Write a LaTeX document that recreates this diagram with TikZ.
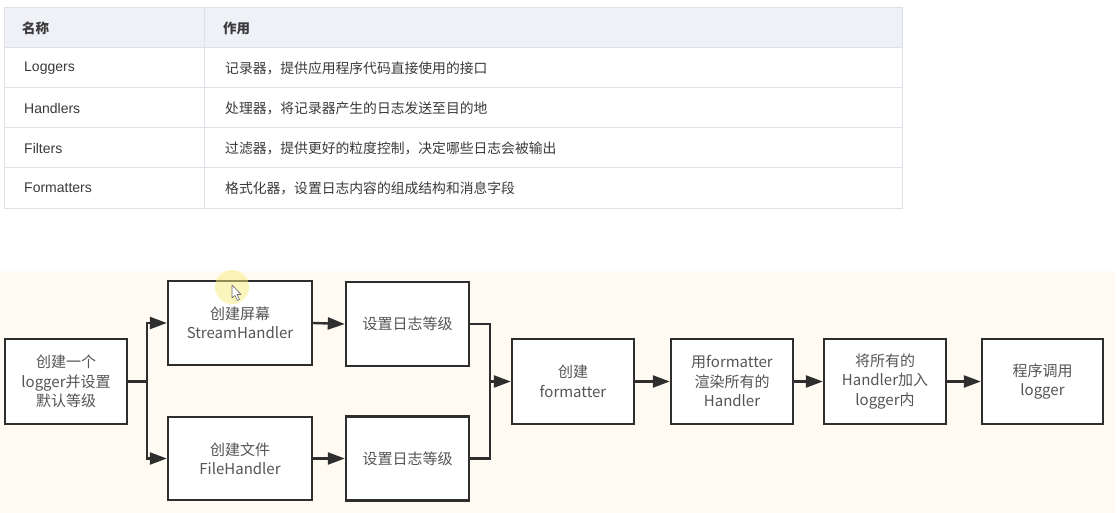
\documentclass[tikz,border=0pt]{standalone}
\usepackage{fontspec}
\setmainfont{Liberation Sans}
\newfontfamily\cjk{Noto Sans CJK SC}
\usetikzlibrary{arrows.meta}

\definecolor{tblline}{HTML}{DDE2EA}
\definecolor{tblhead}{HTML}{EFF1F6}
\definecolor{tbltext}{HTML}{3A3A3A}
\definecolor{canvas}{HTML}{FFFBF2}
\definecolor{ink}{HTML}{2E2E2E}
\definecolor{boxtext}{HTML}{555555}
\definecolor{glow}{HTML}{F6EC7A}

\tikzset{
  headtxt/.style={anchor=west, text=tbltext, font=\cjk\bfseries\fontsize{13.5}{15}\selectfont, inner sep=0pt},
  nametxt/.style={anchor=west, text=tbltext, font=\fontsize{14}{16}\selectfont, inner sep=0pt},
  desctxt/.style={anchor=west, text=tbltext, font=\cjk\fontsize{13.8}{16}\selectfont, inner sep=0pt},
  stepbox/.style={draw=ink, line width=2.4pt, fill=white, align=center, text=boxtext,
    font=\cjk\fontsize{15}{19.5}\selectfont, inner sep=0pt},
  link/.style={draw=ink, line width=2.4pt},
  arr/.style={link, -{Triangle[length=17pt,width=12pt]}},
}

\begin{document}
\begin{tikzpicture}[x=1pt, y=-1pt]
\useasboundingbox (0,0) rectangle (1118,513);
\fill[white] (0,0) rectangle (1118,513);

% ---- table of logging components ----
\fill[tblhead] (4,8) rectangle (902,48);
\begin{scope}[draw=tblline, line width=1pt]
  \draw (4,8) rectangle (902,208);
  \foreach \yy in {48,88,128,168} \draw (4,\yy) -- (902,\yy);
  \draw (204,8) -- (204,208);
\end{scope}

\node[headtxt] (h1) at (22,28) {名称};
\node[headtxt] (h2) at (223,28) {作用};

\node[nametxt] (n1) at (24,68)  {Loggers};
\node[nametxt] (n2) at (24,108) {Handlers};
\node[nametxt] (n3) at (24,148) {Filters};
\node[nametxt] (n4) at (24,188) {Formatters};

\node[desctxt] (d1) at (225,68)  {记录器，提供应用程序代码直接使用的接口};
\node[desctxt] (d2) at (225,108) {处理器，将记录器产生的日志发送至目的地};
\node[desctxt] (d3) at (225,148) {过滤器，提供更好的粒度控制，决定哪些日志会被输出};
\node[desctxt] (d4) at (225,188) {格式化器，设置日志内容的组成结构和消息字段};

% ---- flow chart ----
\fill[canvas] (0,271) rectangle (1115,513);

\node[stepbox, minimum width=122pt, minimum height=85pt] (A) at (66,381.5)
  {创建一个\\logger并设置\\默认等级};
\node[stepbox, minimum width=144pt, minimum height=84pt] (B) at (240,323)
  {创建屏幕\\StreamHandler};
\node[stepbox, minimum width=123pt, minimum height=84pt] (C) at (407.5,324)
  {设置日志等级};
\node[stepbox, minimum width=144pt, minimum height=83pt] (D) at (240,458.5)
  {创建文件\\FileHandler};
\node[stepbox, minimum width=123pt, minimum height=84pt] (E) at (407.5,458.5)
  {设置日志等级};
\node[stepbox, minimum width=122pt, minimum height=85pt] (F) at (573,381.5)
  {创建\\formatter};
\node[stepbox, minimum width=122pt, minimum height=85pt] (G) at (732,381.5)
  {用formatter\\渲染所有的\\Handler};
\node[stepbox, minimum width=122pt, minimum height=85pt] (H) at (885,381.5)
  {将所有的\\Handler加入\\logger内};
\node[stepbox, minimum width=121pt, minimum height=85pt] (I) at (1042.5,381.5)
  {程序调用\\logger};

\coordinate (split) at (147,381.5);
\coordinate (join) at (490,381.5);

\draw[link] (A.east) -- (split);
\draw[arr] (split) |- (B.west);
\draw[arr] (split) |- (D.west);
\draw[arr] (B.east) -- (C.west);
\draw[arr] (D.east) -- (E.west);
\draw[link] (C.east) -| (join);
\draw[link] (E.east) -| (join);
\draw[arr] (join) -- (F.west);
\draw[arr] (F.east) -- (G.west);
\draw[arr] (G.east) -- (H.west);
\draw[arr] (H.east) -- (I.west);

% pointer highlight
\fill[glow, opacity=0.5] (232,287) circle (17pt);
\filldraw[fill=white, draw=black!60, line width=0.6pt, line join=round]
  (232,285) -- (232,298) -- (235,295.5) -- (237.5,300.5) -- (239.5,299.5)
  -- (237,294.5) -- (241,294.5) -- cycle;
\end{tikzpicture}
\end{document}
